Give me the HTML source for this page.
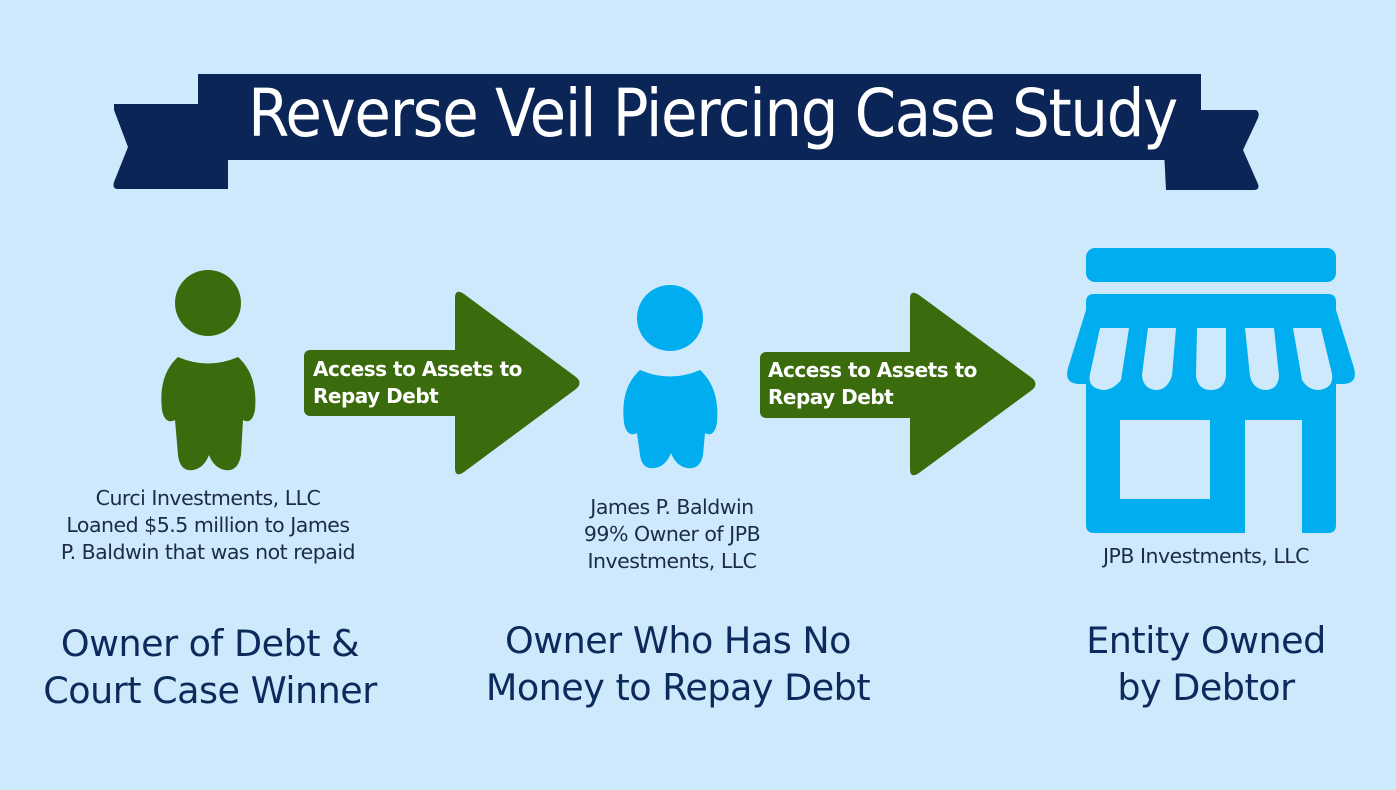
<!DOCTYPE html>
<html><head><meta charset="utf-8"><style>
html,body{margin:0;padding:0}
body{width:1396px;height:790px;background:#cde9fb;position:relative;overflow:hidden;font-family:"DejaVu Sans","Liberation Sans",sans-serif}
.t{position:absolute;text-align:center;white-space:nowrap}
.small{font-size:20.5px;color:#1d2b45;line-height:27px;letter-spacing:-0.5px}
.big{font-size:36.5px;color:#0d2a5c;line-height:47px;letter-spacing:-0.5px}
.arr{font-size:20px;font-weight:bold;color:#fff;line-height:27px;text-align:left;letter-spacing:-0.5px}
</style></head><body>
<svg width="1396" height="790" style="position:absolute;left:0;top:0">
<path d="M114 104 L228 104 L228 189 L118 189 Q112 189 114 182 L128 147 L114 110 Z" fill="#0c2557"/>
<path d="M1162 110 L1256 110 Q1260 112 1258 118 L1243 150 L1258 184 Q1260 190 1254 190 L1166 190 Z" fill="#0c2557"/>
<rect x="198" y="74" width="1003" height="86" fill="#0c2557"/>
<g fill="#3a6b0c">
<circle cx="208" cy="303" r="33"/>
<path d="M178 357 Q208 370 238 357 Q258 375 255 410 Q252 425 243 420 L241 455 Q238 472 225 470 Q214 468 209 455 Q204 468 193 470 Q180 472 178 455 L175 420 Q165 425 162 410 Q158 375 178 357 Z"/>
</g>
<g fill="#00aeef">
<circle cx="670" cy="318" r="33"/>
<path d="M640 370 Q670 383 700 370 Q720 388 717 423 Q714 438 705 433 L703 455 Q700 470 687 468 Q676 466 671 453 Q666 466 655 468 Q642 470 640 455 L637 433 Q627 438 624 423 Q620 388 640 370 Z"/>
</g>
<g fill="#3a6b0c">
<rect x="304" y="350" width="160" height="66" rx="6"/>
<path d="M455 298 Q455 288 464 294 L576 377 Q583 383 576 389 L464 472 Q455 478 455 468 Z"/>
<rect x="760" y="352" width="160" height="66" rx="6"/>
<path d="M910 299 Q910 289 919 295 L1032 378 Q1039 384 1032 390 L919 473 Q910 479 910 469 Z"/>
</g>
<g fill="#00aeef">
<rect x="1086" y="248" width="250" height="34" rx="9"/>
<path d="M1094 294 L1328 294 Q1336 294 1336 302 L1336 525 Q1336 533 1328 533 L1302 533 L1302 420 L1245 420 L1245 533 L1094 533 Q1086 533 1086 525 L1086 302 Q1086 294 1094 294 Z M1120 420 L1120 499 L1210 499 L1210 420 Z" fill-rule="evenodd"/>
<path d="M1086 310 L1068 368 Q1064 383 1078 384 L1088 384 Z"/>
<path d="M1336 310 L1354 368 Q1358 383 1344 384 L1334 384 Z"/>
</g>
<g fill="#cde9fb">
<path d="M1100 328 L1129 328 L1121 380 Q1113 390 1103 390 Q1087 388 1090 374 Z"/>
<path d="M1148 328 L1176 328 L1172 376 Q1167 390 1156 390 Q1143 389 1142 375 Z"/>
<path d="M1197 328 L1226 328 L1226 376 Q1224 390 1211 390 Q1198 390 1196 376 Z"/>
<path d="M1245 328 L1274 328 L1279 376 Q1278 390 1265 390 Q1253 389 1250 376 Z"/>
<path d="M1293 328 L1321 328 L1332 374 Q1334 388 1319 390 Q1308 390 1302 380 Z"/>
</g>
</svg>
<div class="t" style="left:198px;width:1003px;top:72px;font-size:66px;color:#fff;line-height:84px;letter-spacing:-1.5px;transform:scaleX(0.9);transform-origin:center">Reverse Veil Piercing Case Study</div>
<div class="t arr" style="left:313px;top:356px">Access to Assets to<br>Repay Debt</div>
<div class="t arr" style="left:768px;top:357px">Access to Assets to<br>Repay Debt</div>
<div class="t small" style="left:28px;width:360px;top:485px">Curci Investments, LLC<br>Loaned $5.5 million to James<br>P. Baldwin that was not repaid</div>
<div class="t small" style="left:492px;width:360px;top:494px">James P. Baldwin<br>99% Owner of JPB<br>Investments, LLC</div>
<div class="t small" style="left:1026px;width:360px;top:543px">JPB Investments, LLC</div>
<div class="t big" style="left:10px;width:400px;top:620px">Owner of Debt &amp;<br>Court Case Winner</div>
<div class="t big" style="left:478px;width:400px;top:617px">Owner Who Has No<br>Money to Repay Debt</div>
<div class="t big" style="left:1006px;width:400px;top:617px">Entity Owned<br>by Debtor</div>
</body></html>
